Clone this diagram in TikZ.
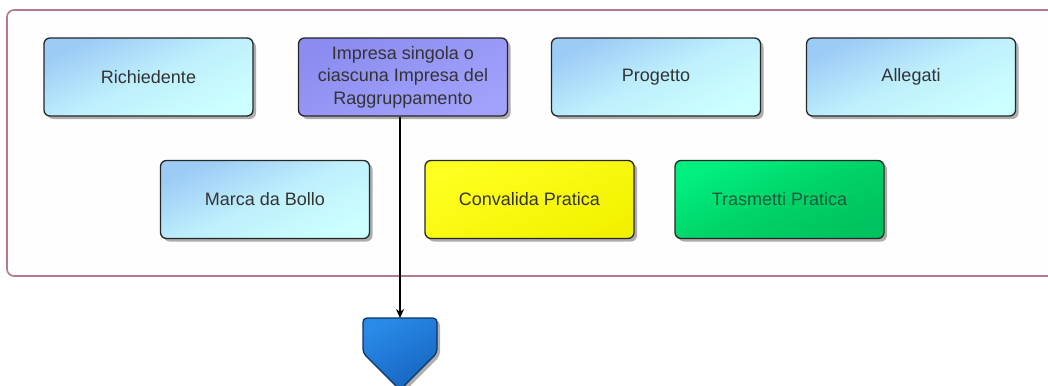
\documentclass[tikz,border=0pt]{standalone}
\usepackage{fontspec}
\setmainfont{Liberation Sans}
\usetikzlibrary{arrows.meta,shadows}
\definecolor{frameC}{HTML}{B57A8A}
\definecolor{frameFill}{HTML}{FEFEFE}
\definecolor{blueA}{HTML}{9CCBF6}
\definecolor{blueM}{HTML}{BEEFFC}
\definecolor{blueB}{HTML}{CCFFFF}
\definecolor{purA}{HTML}{8C8CF0}
\definecolor{purB}{HTML}{A2A2FC}
\definecolor{yelA}{HTML}{FFFF20}
\definecolor{yelB}{HTML}{F2F200}
\definecolor{grnA}{HTML}{00F080}
\definecolor{grnM}{HTML}{00D468}
\definecolor{grnB}{HTML}{00C25E}
\definecolor{grnTxt}{HTML}{1E5A3C}
\definecolor{penA}{HTML}{2A8AE8}
\definecolor{penB}{HTML}{1565C0}
\definecolor{penLine}{HTML}{0C3560}
\definecolor{txt}{HTML}{333333}
\tikzset{
  boxbase/.style={draw=black!85, line width=1.3pt, rounded corners=6pt,
    minimum width=209pt, minimum height=78pt, align=center,
    text=txt, font=\fontsize{18}{22.5}\selectfont, inner sep=2pt,
    drop shadow={shadow xshift=3pt, shadow yshift=-3pt, fill=black!45, opacity=0.7}},
  bluebox/.style={boxbase, top color=blueA, bottom color=blueB, middle color=blueM, shading angle=25},
  purbox/.style={boxbase, top color=purA, bottom color=purB, shading angle=25},
  yelbox/.style={boxbase, top color=yelA, bottom color=yelB, shading angle=25},
  grnbox/.style={boxbase, top color=grnA, bottom color=grnB, middle color=grnM, shading angle=25, text=grnTxt},
  flowline/.style={line width=1.4pt, -{Stealth[length=9pt,width=8pt]}},
}
\begin{document}
\begin{tikzpicture}[x=1pt,y=-1pt]
\useasboundingbox (0,0) rectangle (1048,385);
% container
\draw[frameC, line width=1.6pt, fill=frameFill, rounded corners=7pt] (7,10) rectangle (1070,276);
% boxes
\node[bluebox] (rich) at (148.5,77) {Richiedente};
\node[purbox]  (imp)  at (403,77) {Impresa singola o\\ciascuna Impresa del\\Raggruppamento};
\node[bluebox] (prog) at (656,77) {Progetto};
\node[bluebox] (alle) at (911,77) {Allegati};
\node[bluebox] (marca) at (265,199.5) {Marca da Bollo};
\node[yelbox]  (conv) at (529.5,199.5) {Convalida Pratica};
\node[grnbox]  (tras) at (779.5,199.5) {Trasmetti Pratica};
% pentagon (off-page connector)
\coordinate (pent) at (400,318);
\fill[black!45, opacity=0.7, rounded corners=4pt] (366,321) -- (440,321) -- (440,356) -- (403,393) -- (366,356) -- cycle;
\draw[penLine, line width=1.3pt, top color=penA, bottom color=penB, shading angle=30, rounded corners=4pt]
  (363,318) -- (437,318) -- (437,353) -- (400,390) -- (363,353) -- cycle;
% connector
\draw[flowline] (pent |- imp.south) -- (pent);
\end{tikzpicture}
\end{document}
